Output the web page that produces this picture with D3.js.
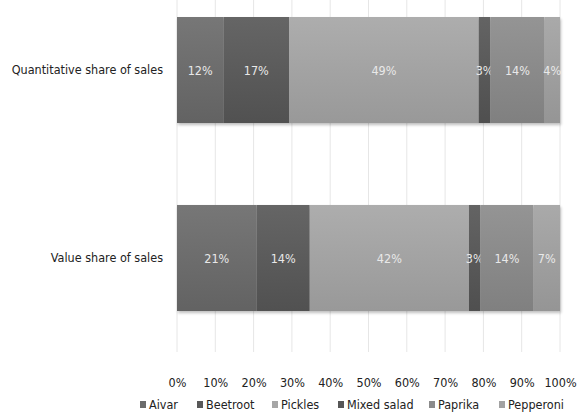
<!DOCTYPE html>
<html>
<head>
<meta charset="utf-8">
<script src="https://cdn.jsdelivr.net/npm/d3@7"></script>
<style>
  body { margin: 0; background: #fff; }
  text { font-family: "Liberation Sans Narrow", "DejaVu Sans Condensed", sans-serif; }
</style>
</head>
<body>
<svg id="chart"></svg>
<script>
const categories = ["Quantitative share of sales", "Value share of sales"];
const products = ["Aivar", "Beetroot", "Pickles", "Mixed salad", "Paprika", "Pepperoni"];
const quantShare = [12, 17, 49, 3, 14, 4];
const valueShare = [21, 14, 42, 3, 14, 7];
const ticks = [0, 0.1, 0.2, 0.3, 0.4, 0.5, 0.6, 0.7, 0.8, 0.9, 1];
const colors = ["#6b6b6b", "#585858", "#a6a6a6", "#565656", "#8b8b8b", "#a2a2a2"];

const W = 587, H = 414;
const svg = d3.select("#chart").attr("width", W).attr("height", H);

const margin = { top: 0, right: 27, bottom: 62, left: 177 };
const width = W - margin.left - margin.right;

const rows = categories.map((c, i) => {
  const vals = i === 0 ? quantShare : valueShare;
  const r = { cat: c };
  products.forEach((p, j) => r[p] = vals[j]);
  return r;
});

const series = d3.stack().keys(products).offset(d3.stackOffsetExpand)(rows);

const x = d3.scaleLinear().domain([0, 1]).range([margin.left, margin.left + width]);
const y = d3.scaleBand().domain(categories).range([17, 311]).paddingInner(0.436).paddingOuter(0);
const color = d3.scaleOrdinal(products, colors);

const defs = svg.append("defs");
const grad = defs.append("linearGradient").attr("id", "shade")
  .attr("x1", 0).attr("y1", 0).attr("x2", 0).attr("y2", 1);
grad.append("stop").attr("offset", "0%").attr("stop-color", "#fff").attr("stop-opacity", 0.08);
grad.append("stop").attr("offset", "100%").attr("stop-color", "#000").attr("stop-opacity", 0.08);
const blur = defs.append("filter").attr("id", "shadow").attr("x", "-5%").attr("y", "-5%").attr("width", "110%").attr("height", "120%");
blur.append("feGaussianBlur").attr("stdDeviation", 1.5);

// gridlines
svg.append("g")
  .selectAll("line")
  .data(ticks)
  .join("line")
  .attr("x1", d => x(d)).attr("x2", d => x(d))
  .attr("y1", 0).attr("y2", 352)
  .attr("stroke", "#e6e6e6").attr("stroke-width", 1);

// bar shadows
svg.append("g")
  .selectAll("rect")
  .data(categories)
  .join("rect")
  .attr("x", x(0) + 1)
  .attr("y", d => y(d) + 2)
  .attr("width", x(1) - x(0))
  .attr("height", y.bandwidth())
  .attr("fill", "#000").attr("opacity", 0.25)
  .attr("filter", "url(#shadow)");

const layers = svg.append("g")
  .selectAll("g")
  .data(series)
  .join("g")
  .attr("fill", d => color(d.key));

layers.selectAll("rect")
  .data(d => d.map(v => Object.assign(v, { key: d.key })))
  .join("rect")
  .attr("x", d => x(d[0]))
  .attr("y", d => y(d.data.cat))
  .attr("width", d => x(d[1]) - x(d[0]))
  .attr("height", y.bandwidth());

// shading overlay
svg.append("g")
  .selectAll("rect")
  .data(categories)
  .join("rect")
  .attr("x", x(0))
  .attr("y", d => y(d))
  .attr("width", x(1) - x(0))
  .attr("height", y.bandwidth())
  .attr("fill", "url(#shade)");

// value labels
layers.selectAll("text")
  .data(d => d)
  .join("text")
  .attr("x", d => (x(d[0]) + x(d[1])) / 2)
  .attr("y", d => y(d.data.cat) + y.bandwidth() / 2 + 1)
  .attr("dy", "0.35em")
  .attr("text-anchor", "middle")
  .attr("fill", "#f2f2f2")
  .style("font-size", "12.5px")
  .text(d => d.data[d.key] + "%");

// category labels
svg.append("g")
  .selectAll("text")
  .data(categories)
  .join("text")
  .attr("x", 163)
  .attr("y", d => y(d) + y.bandwidth() / 2)
  .attr("dy", "0.35em")
  .attr("text-anchor", "end")
  .attr("fill", "#222")
  .style("font-size", "12.5px")
  .text(d => d);

// x axis
const xAxis = svg.append("g")
  .attr("transform", `translate(0,383)`)
  .call(d3.axisBottom(x).tickValues(ticks).tickFormat(d3.format(".0%")).tickSize(0).tickPadding(0));
xAxis.select(".domain").remove();
xAxis.selectAll("text")
  .attr("dy", "0.35em")
  .attr("fill", "#222")
  .style("font-size", "12.5px")
  .style("font-family", "'Liberation Sans Narrow', 'DejaVu Sans Condensed', sans-serif");

// legend
const legendX = [140, 197, 272, 338, 429, 499];
const legend = svg.append("g")
  .selectAll("g")
  .data(products)
  .join("g")
  .attr("transform", (d, i) => `translate(${legendX[i]},405)`);
legend.append("rect")
  .attr("x", 0).attr("y", -4).attr("width", 6).attr("height", 7)
  .attr("fill", d => color(d));
legend.append("text")
  .attr("x", 9)
  .attr("dy", "0.35em")
  .attr("fill", "#222")
  .style("font-size", "12.5px")
  .text(d => d);
</script>
</body>
</html>
